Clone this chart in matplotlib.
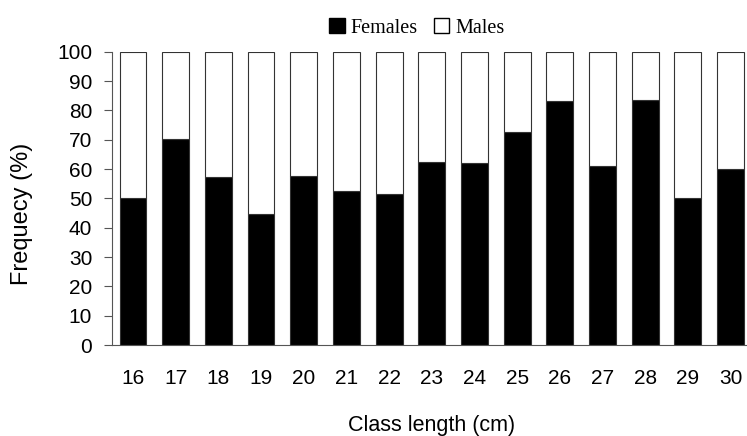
import numpy as np
import matplotlib.pyplot as plt
from matplotlib.patches import Patch

# datos
clases = ['16', '17', '18', '19', '20', '21', '22', '23', '24', '25', '26', '27', '28', '29', '30']
hembras = [50.0, 70.3, 57.2, 44.5, 57.7, 52.4, 51.6, 62.3, 61.9, 72.6, 83.3, 61.1, 83.7, 50.0, 59.9]
machos = [100 - h for h in hembras]

plt.rcParams['font.family'] = ['Liberation Sans', 'DejaVu Sans']

fig = plt.figure(figsize=(7.47, 4.36), dpi=100)
ax = fig.add_axes([0.1495, 0.2087, 0.857, 0.6727])

x = np.arange(len(clases))
ancho = 0.63
ax.bar(x, hembras, width=ancho, color='black', edgecolor='#333333', linewidth=0.8)
ax.bar(x, machos, width=ancho, bottom=hembras, color='white', edgecolor='#333333', linewidth=0.8)

ax.set_xlim(-0.5, 14.5)
ax.set_ylim(0, 100)
ax.set_yticks(range(0, 101, 10))
ax.set_xticks(x)
ax.set_xticklabels(clases)

ax.spines['top'].set_visible(False)
ax.spines['right'].set_visible(False)
ax.spines['left'].set_color('#555555')
ax.spines['bottom'].set_color('#555555')
ax.tick_params(axis='y', length=6, width=0.8, color='#555555', pad=8, labelsize=15)
ax.tick_params(axis='x', length=0, pad=17, labelsize=15)

fig.text(0.578, 0.025, 'Class length (cm)', ha='center', va='center', fontsize=15.5)
fig.text(0.0295, 0.51, 'Frequecy (%)', ha='center', va='center', rotation=90, fontsize=17)

handles = [Patch(facecolor='black', edgecolor='black', label='Females'),
           Patch(facecolor='white', edgecolor='black', label='Males')]
fig.legend(handles=handles, loc='center', bbox_to_anchor=(0.558, 0.936), ncol=2, frameon=False,
           prop={'family': 'Liberation Serif', 'size': 14.5},
           handlelength=0.75, handleheight=0.75, handletextpad=0.3, columnspacing=0.8)

plt.savefig('out.png', dpi=100)
